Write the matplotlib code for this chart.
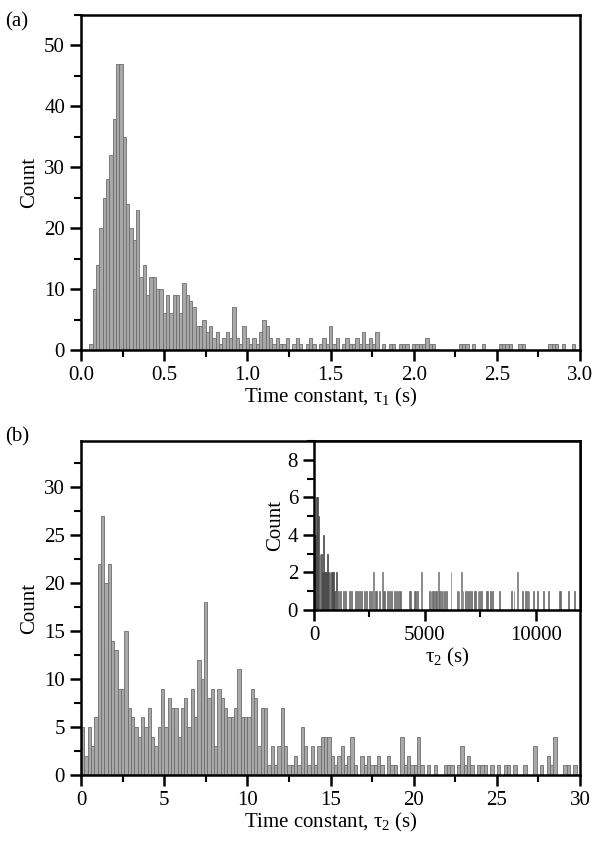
import numpy as np
import matplotlib.pyplot as plt
from matplotlib.ticker import MultipleLocator

plt.rcParams['font.family'] = ['Liberation Serif', 'DejaVu Serif']
plt.rcParams['mathtext.fontset'] = 'custom'
plt.rcParams['mathtext.rm'] = 'Liberation Serif'
plt.rcParams['mathtext.it'] = 'Liberation Serif:italic'

# panel (a): tau1 histogram, 0.02 s bins, counts from centre 0.00 s
a_width = 0.02
a_counts = [0, 0, 0, 1, 10, 14, 20, 25, 28, 32,
            38, 47, 47, 35, 24, 20, 18, 23, 12, 14,
            9, 12, 12, 10, 10, 6, 9, 6, 9, 9,
            6, 11, 9, 8, 7, 4, 4, 5, 3, 4,
            2, 3, 1, 2, 3, 2, 7, 2, 1, 4,
            2, 1, 2, 1, 3, 5, 4, 2, 1, 2,
            1, 1, 2, 0, 1, 2, 1, 0, 1, 2,
            1, 0, 1, 2, 1, 4, 1, 2, 0, 1,
            2, 1, 1, 2, 1, 3, 1, 2, 1, 3,
            0, 1, 0, 1, 1, 0, 1, 1, 1, 0,
            1, 1, 1, 1, 2, 1, 1, 0, 0, 0,
            0, 0, 0, 0, 1, 1, 1, 0, 1, 0,
            0, 1, 0, 0, 0, 0, 1, 1, 1, 1,
            0, 0, 1, 1, 0, 0, 0, 0, 0, 0,
            0, 1, 1, 1, 0, 1, 0, 0, 1, 0]

# panel (b): tau2 histogram, 0.2 s bins, counts from left edge 0.0 s
b_width = 0.2
b_counts = [5, 2, 5, 3, 6, 22, 27, 20, 22, 14,
            13, 9, 9, 15, 7, 6, 5, 4, 6, 5,
            7, 4, 3, 5, 9, 5, 8, 7, 7, 4,
            7, 8, 5, 9, 6, 12, 10, 18, 8, 9,
            3, 9, 8, 7, 6, 6, 7, 11, 6, 6,
            6, 9, 8, 3, 7, 7, 1, 3, 1, 3,
            7, 3, 1, 1, 2, 1, 5, 3, 1, 3,
            1, 3, 4, 4, 4, 2, 1, 2, 3, 1,
            2, 4, 1, 0, 2, 1, 2, 1, 1, 2,
            1, 0, 2, 1, 1, 0, 4, 1, 2, 1,
            1, 4, 1, 0, 1, 0, 1, 0, 0, 1,
            1, 1, 0, 1, 3, 1, 2, 1, 0, 1,
            1, 1, 0, 1, 0, 1, 0, 1, 1, 0,
            1, 0, 0, 1, 0, 0, 3, 0, 1, 0,
            2, 1, 4, 0, 0, 1, 1, 0, 1, 0]

# inset: tau2 up to 12000 s
in_width = 40
in_pos = [0, 50, 100, 150, 200, 250, 300, 350, 400, 450,
          500, 550, 600, 650, 700, 750, 800, 850, 900, 990]
in_cnt = [4, 4, 6, 6, 5, 3, 3, 2, 4, 2,
          2, 2, 3, 2, 2, 2, 2, 2, 1, 2]
in_pos2 = [2670, 3050, 4820, 5600, 6160, 6650, 9160]
in_pos1 = [1090, 1180, 1320, 1420, 1600, 1660, 1850, 1930, 2050, 2120,
           2270, 2340, 2490, 2560, 2750, 2800, 2950, 3100, 3170, 3300,
           3400, 3470, 3620, 3700, 3800, 3860, 3900, 4280, 4350, 4500,
           4570, 4650, 5200, 5260, 5320, 5380, 5450, 5520, 5650, 5720,
           5800, 5860, 5950, 6450, 6520, 6700, 6800, 6900, 6980, 7100,
           7200, 7250, 7380, 7450, 7530, 7750, 7820, 7950, 8030, 8330,
           8900, 9000, 9380, 9520, 9600, 9680, 9900, 10050, 10350, 10550,
           11050, 11080, 11480, 11750]

face = '#a8a8a8'
edge = '#6e6e6e'
fs = 15

fig = plt.figure(figsize=(6.02, 8.57), dpi=100)


def style(ax, fs_lab=fs):
    for s in ax.spines.values():
        s.set_linewidth(1.8)
    ax.tick_params(which='major', direction='out', length=8, width=1.8,
                   labelsize=fs_lab, right=False, top=False)
    ax.tick_params(which='minor', direction='out', length=5, width=1.5,
                   right=False, top=False)


# ---- (a)
ax1 = fig.add_axes([0.1346, 0.5916, 0.8289, 0.3909])
ca = np.arange(len(a_counts)) * a_width
ax1.bar(ca, a_counts, width=a_width, color=face, edgecolor=edge, linewidth=0.6)
ax1.set_xlim(0, 3.0)
ax1.set_ylim(0, 55)
ax1.xaxis.set_major_locator(MultipleLocator(0.5))
ax1.xaxis.set_minor_locator(MultipleLocator(0.25))
ax1.yaxis.set_major_locator(MultipleLocator(10))
ax1.yaxis.set_minor_locator(MultipleLocator(5))
ax1.xaxis.set_major_formatter(lambda v, p: f'{v:.1f}')
style(ax1)
ax1.set_xlabel('Time constant, τ$_1$ (s)', fontsize=fs, labelpad=1)
ax1.set_ylabel('Count', fontsize=fs, labelpad=4)
fig.text(0.008, 0.975, '(a)', fontsize=fs, va='center')

# ---- (b)
ax2 = fig.add_axes([0.1346, 0.0957, 0.8289, 0.3897])
cb = np.arange(len(b_counts)) * b_width
ax2.bar(cb, b_counts, width=b_width, align='edge', color=face, edgecolor=edge,
        linewidth=0.6)
ax2.set_xlim(0, 30)
ax2.set_ylim(0, 34.8)
ax2.xaxis.set_major_locator(MultipleLocator(5))
ax2.xaxis.set_minor_locator(MultipleLocator(2.5))
ax2.yaxis.set_major_locator(MultipleLocator(5))
ax2.yaxis.set_minor_locator(MultipleLocator(2.5))
style(ax2)
ax2.set_xlabel('Time constant, τ$_2$ (s)', fontsize=fs, labelpad=1)
ax2.set_ylabel('Count', fontsize=fs, labelpad=4)
fig.text(0.008, 0.49, '(b)', fontsize=fs, va='center')

# ---- inset
ax3 = fig.add_axes([0.5216, 0.2882, 0.4419, 0.1972])
ax3.bar(in_pos, in_cnt, width=in_width, align='edge', color='#4a4a4a',
        edgecolor='#4a4a4a', linewidth=0.5)
ax3.bar(in_pos2, [2] * len(in_pos2), width=in_width, align='edge',
        color='#7a7a7a', edgecolor='#7a7a7a', linewidth=0.5)
ax3.bar(in_pos1, [1] * len(in_pos1), width=in_width, align='edge',
        color='#6a6a6a', edgecolor='#6a6a6a', linewidth=0.5)
ax3.set_xlim(0, 12000)
ax3.set_ylim(0, 9)
ax3.xaxis.set_major_locator(MultipleLocator(5000))
ax3.xaxis.set_minor_locator(MultipleLocator(2500))
ax3.yaxis.set_major_locator(MultipleLocator(2))
ax3.yaxis.set_minor_locator(MultipleLocator(1))
style(ax3)
ax3.set_xlabel('τ$_2$ (s)', fontsize=fs, labelpad=1)
ax3.set_ylabel('Count', fontsize=fs, labelpad=2)

fig.savefig('out.png', dpi=100)
